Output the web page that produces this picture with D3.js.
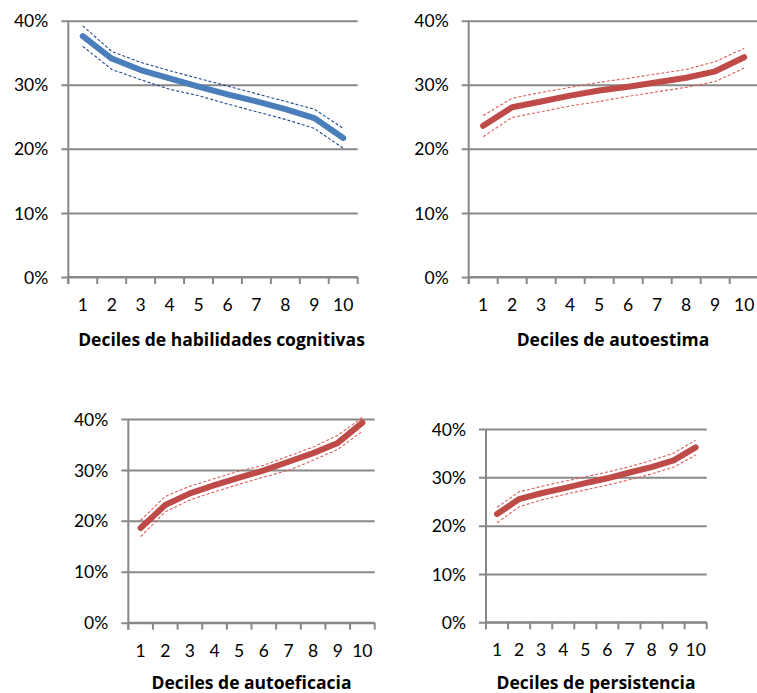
<!DOCTYPE html>
<html>
<head>
<meta charset="utf-8">
<script src="https://cdn.jsdelivr.net/npm/d3@7/dist/d3.min.js"></script>
<style>
  html, body { margin: 0; padding: 0; background: #fff; }
  svg { display: block; }
</style>
</head>
<body>
<svg id="chart" width="757" height="693"></svg>
<script>
// ---- Data (values in %) ----
const deciles = ["1","2","3","4","5","6","7","8","9","10"];
const yTickValues = [0, 10, 20, 30, 40];
const yTickLabels = ["0%", "10%", "20%", "30%", "40%"];

const cognitivasMean  = [37.6, 34.1, 32.3, 31.0, 29.7, 28.5, 27.4, 26.2, 24.8, 21.7];
const cognitivasUpper = [39.2, 35.2, 33.5, 32.2, 31.0, 29.8, 28.6, 27.4, 26.2, 23.2];
const cognitivasLower = [36.0, 32.4, 30.8, 29.3, 28.3, 27.0, 25.8, 24.6, 23.2, 20.1];

const autoestimaMean  = [23.6, 26.5, 27.4, 28.3, 29.1, 29.7, 30.4, 31.1, 32.1, 34.3];
const autoestimaUpper = [25.2, 27.9, 28.8, 29.6, 30.4, 31.0, 31.7, 32.4, 33.6, 35.7];
const autoestimaLower = [21.9, 24.9, 25.8, 26.7, 27.4, 28.2, 28.9, 29.6, 30.5, 32.6];

const autoeficaciaMean  = [18.6, 23.1, 25.4, 27.0, 28.5, 29.9, 31.6, 33.3, 35.3, 39.3];
const autoeficaciaUpper = [20.1, 24.8, 26.8, 28.3, 29.8, 30.9, 32.7, 34.5, 36.8, 40.3];
const autoeficaciaLower = [16.9, 21.8, 24.1, 25.7, 27.2, 28.6, 29.9, 31.9, 34.0, 37.6];

const persistenciaMean  = [22.4, 25.5, 26.7, 27.7, 28.8, 29.8, 31.0, 32.1, 33.5, 36.2];
const persistenciaUpper = [23.8, 27.0, 28.1, 29.1, 30.1, 31.1, 32.2, 33.5, 35.0, 37.7];
const persistenciaLower = [20.6, 23.9, 25.3, 26.4, 27.4, 28.4, 29.5, 30.7, 32.1, 34.6];

const titles = [
  "Deciles de habilidades cognitivas",
  "Deciles de autoestima",
  "Deciles de autoeficacia",
  "Deciles de persistencia"
];

// ---- Layout & style ----
const panels = [
  { title: titles[0], mean: cognitivasMean, upper: cognitivasUpper, lower: cognitivasLower,
    left: 68.3, right: 357.7, top: 20.7, bottom: 277, titleX: 221.5, titleY: 340,
    main: "#4a7ebb", ci: "#1f4a8c" },
  { title: titles[1], mean: autoestimaMean, upper: autoestimaUpper, lower: autoestimaLower,
    left: 468.7, right: 758.7, top: 20.7, bottom: 277, titleX: 613, titleY: 340,
    main: "#be4b48", ci: "#dc5f5c" },
  { title: titles[2], mean: autoeficaciaMean, upper: autoeficaciaUpper, lower: autoeficaciaLower,
    left: 128.3, right: 374.7, top: 419, bottom: 622.7, titleX: 251.5, titleY: 682.5,
    main: "#be4b48", ci: "#dc5f5c" },
  { title: titles[3], mean: persistenciaMean, upper: persistenciaUpper, lower: persistenciaLower,
    left: 486, right: 706.7, top: 429, bottom: 622.3, titleX: 596, titleY: 682.5,
    main: "#be4b48", ci: "#dc5f5c" }
];

const gridColor = "#888888";
const svg = d3.select("#chart");

panels.forEach(p => {
  const x = d3.scaleBand().domain(deciles).range([p.left, p.right]).padding(0);
  const y = d3.scaleLinear().domain([0, 40]).range([p.bottom, p.top]);
  const g = svg.append("g");

  // Gridlines + y ticks
  const yAxis = d3.axisLeft(y)
    .tickValues(yTickValues)
    .tickFormat((d, i) => yTickLabels[i])
    .tickSizeInner(-(p.right - p.left))
    .tickSizeOuter(0)
    .tickPadding(0);
  const ya = g.append("g").attr("transform", `translate(${p.left},0)`).call(yAxis);
  ya.select(".domain").remove();
  ya.selectAll(".tick line").attr("stroke", gridColor).attr("stroke-width", 2)
    .attr("x1", -7);
  ya.selectAll(".tick text")
    .attr("x", -20)
    .attr("dy", "0.35em")
    .style("font-size", "17.5px")
    .style("font-family", "Lato, sans-serif")
    .style("fill", "#000");

  // x axis with ticks at band boundaries
  const xa = g.append("g").attr("transform", `translate(0,${p.bottom})`);
  xa.append("line").attr("x1", p.left).attr("x2", p.right)
    .attr("stroke", gridColor).attr("stroke-width", 2);
  const bounds = deciles.map(d => x(d)).concat([x(deciles[deciles.length - 1]) + x.bandwidth()]);
  xa.selectAll("line.xt").data(bounds).enter().append("line").attr("class", "xt")
    .attr("x1", d => d).attr("x2", d => d).attr("y1", 0).attr("y2", 7)
    .attr("stroke", gridColor).attr("stroke-width", 2);
  const xAxis = d3.axisBottom(x).tickSize(0).tickPadding(0);
  const xg = g.append("g").attr("transform", `translate(0,${p.bottom})`).call(xAxis);
  xg.select(".domain").remove();
  xg.selectAll(".tick text").attr("y", 28).attr("dy", "0.35em")
    .style("font-size", "17.5px").style("font-family", "Lato, sans-serif").style("fill", "#000");

  // y axis line
  g.append("line").attr("x1", p.left).attr("x2", p.left)
    .attr("y1", p.top).attr("y2", p.bottom + 7)
    .attr("stroke", gridColor).attr("stroke-width", 2);

  // Title
  g.append("text").attr("x", p.titleX).attr("y", p.titleY)
    .attr("text-anchor", "middle").attr("dy", "0.35em")
    .style("font-size", "17.5px").style("font-weight", "bold")
    .style("font-family", "'Open Sans', sans-serif").style("fill", "#000")
    .text(p.title);

  const line = d3.line()
    .x((d, i) => x(deciles[i]) + x.bandwidth() / 2)
    .y(d => y(d));

  [p.upper, p.lower].forEach(arr => {
    g.append("path").datum(arr).attr("d", line)
      .attr("fill", "none").attr("stroke", p.ci).attr("stroke-width", 1.1)
      .attr("stroke-dasharray", "3,2");
  });
  g.append("path").datum(p.mean).attr("d", line)
    .attr("fill", "none").attr("stroke", p.main).attr("stroke-width", 6)
    .attr("stroke-linecap", "round").attr("stroke-linejoin", "round");
});
</script>
</body>
</html>
